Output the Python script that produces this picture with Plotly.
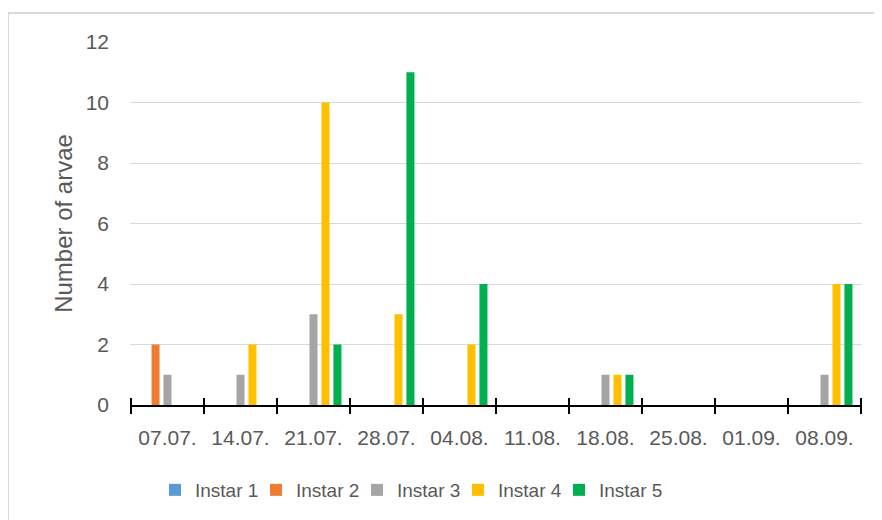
import plotly.graph_objects as go

categories = ["07.07.", "14.07.", "21.07.", "28.07.", "04.08.", "11.08.", "18.08.", "25.08.", "01.09.", "08.09."]
instar1 = [0, 0, 0, 0, 0, 0, 0, 0, 0, 0]
instar2 = [2, 0, 0, 0, 0, 0, 0, 0, 0, 0]
instar3 = [1, 1, 3, 0, 0, 0, 1, 0, 0, 1]
instar4 = [0, 2, 10, 3, 2, 0, 1, 0, 0, 4]
instar5 = [0, 0, 2, 11, 4, 0, 1, 0, 0, 4]
series_names = ["Instar 1", "Instar 2", "Instar 3", "Instar 4", "Instar 5"]
colors = ["#5B9BD5", "#ED7D31", "#A5A5A5", "#FFC000", "#00B050"]
y_ticks = [0, 2, 4, 6, 8, 10, 12]

# page body adds an 8px offset, so the figure is laid out 8px smaller
OFF = 8
W, H = 882 - OFF, 520 - OFF
ML, MT = 130 - OFF, 42 - OFF
MR = W - (862 - OFF)
MB = H - (405 - OFF)
pw, ph = W - ML - MR, H - MT - MB

fig = go.Figure()
for name, vals, c in zip(series_names, [instar1, instar2, instar3, instar4, instar5], colors):
    fig.add_trace(go.Bar(x=categories, y=vals, name=name, marker=dict(color=c, line=dict(width=0))))

# invisible legend spacer so the last legend entry's text is not clipped
fig.add_trace(go.Scatter(x=[None], y=[None], mode="markers", name="", hoverinfo="skip",
                         marker=dict(color="rgba(0,0,0,0)", size=1)))

font = "Liberation Sans, Arial, sans-serif"
fig.update_layout(
    width=W, height=H,
    margin=dict(l=ML, r=MR, t=MT, b=MB, pad=0, autoexpand=False),
    paper_bgcolor="white", plot_bgcolor="white",
    barmode="group", bargap=0.18, bargroupgap=0.33,
    font=dict(family=font, color="#595959", size=21),
    showlegend=True,
    legend=dict(orientation="h", x=(155 - 130) / pw, xanchor="left", y=-(490 - 405) / ph, yanchor="middle",
                font=dict(size=19, color="#595959"), entrywidth=56, entrywidthmode="pixels",
                itemwidth=30, traceorder="normal", bgcolor="rgba(0,0,0,0)"),
    xaxis=dict(type="category", showgrid=False, showline=True, linecolor="black", linewidth=2,
               ticks="outside", ticklen=7, tickwidth=2, tickcolor="black", tickson="boundaries",
               tickfont=dict(size=21, color="#595959"), ticklabelstandoff=13, zeroline=False),
    yaxis=dict(range=[0, 12], tickvals=y_ticks, showgrid=True, gridcolor="#D9D9D9", gridwidth=1,
               showline=False, zeroline=False, ticks="", ticklabelstandoff=20,
               tickfont=dict(size=21, color="#595959"),
               title=dict(text="Number of arvae", font=dict(size=24, color="#595959"), standoff=6)),
)

# upper halves of the crossing tick marks on the category axis
up = 7 * 12 / ph
for i in range(len(categories) + 1):
    fig.add_shape(type="line", xref="x", yref="y", x0=i - 0.5, x1=i - 0.5, y0=0, y1=up,
                  line=dict(color="black", width=2), layer="above")

# chart-area border (top-left corner visible, the rest is outside the picture)
fig.add_shape(type="rect", xref="paper", yref="paper",
              x0=(8 - 130) / pw, x1=(900 - 130) / pw,
              y0=-(540 - 405) / ph, y1=1 + (42 - 13) / ph,
              line=dict(color="#D9D9D9", width=2), fillcolor="rgba(0,0,0,0)", layer="below")

fig.write_html("out.html")
